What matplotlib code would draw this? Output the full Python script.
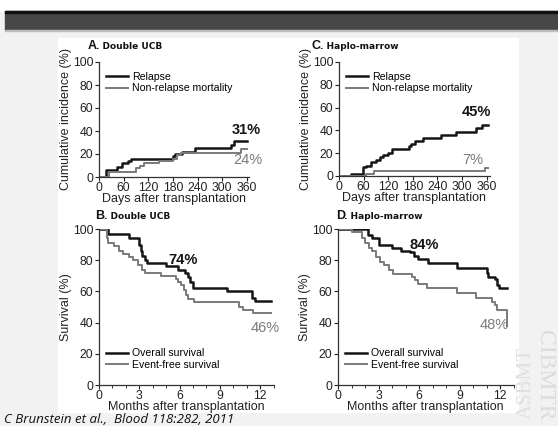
import numpy as np
import matplotlib.pyplot as plt
from matplotlib.patches import Rectangle

# Данные
# A. Double UCB - кумулятивная частота, дни
a_rel_days = [0, 18, 45, 55, 70, 79, 181, 185, 201, 234, 322, 328, 360]
a_rel = [0, 6, 9, 12, 14, 16, 18, 20, 22, 25, 28, 31, 31]
a_nrm_days = [0, 25, 90, 100, 110, 145, 180, 190, 200, 345, 360]
a_nrm = [0, 4, 8, 10, 12, 14, 16, 19, 21, 24, 24]

# C. Haplo-marrow
c_rel_days = [0, 30, 58, 67, 79, 91, 100, 107, 120, 128, 170, 176, 184, 205, 249, 286, 334, 349, 364]
c_rel = [0, 2, 8, 9, 12, 14, 17, 18, 20, 24, 26, 28, 31, 33, 36, 39, 42, 45, 45]
c_nrm_days = [0, 65, 85, 355, 364]
c_nrm = [0, 2, 4, 7, 7]

# B. Double UCB - выживаемость, месяцы
b_os_mo = [0, 0.7, 2.2, 3.0, 3.1, 3.2, 3.4, 3.6, 5.0, 5.9, 6.4, 6.6, 6.8, 7.0, 9.5, 11.4, 11.6, 12.8]
b_os = [100, 97, 94, 90, 86, 83, 80, 78, 76, 74, 72, 69, 66, 62, 60, 56, 54, 54]
b_efs_mo = [0, 0.6, 0.7, 1.1, 1.5, 1.8, 2.2, 2.5, 2.9, 3.2, 3.4, 4.6, 5.7, 5.9, 6.1, 6.3, 6.5, 6.6, 7.1, 10.4, 10.7, 11.5, 12.8]
b_efs = [100, 94, 91, 89, 86, 84, 82, 80, 77, 74, 72, 70, 68, 66, 64, 61, 58, 55, 53, 50, 48, 46, 46]

# D. Haplo-marrow
d_os_mo = [0, 2.2, 2.5, 3.0, 4.0, 4.7, 5.3, 5.6, 5.9, 6.7, 8.8, 11.0, 11.1, 11.6, 11.8, 11.9, 12.5]
d_os = [100, 96, 94, 90, 88, 86, 85, 83, 81, 78, 75, 72, 69, 68, 64, 62, 62]
d_efs_mo = [0, 1.0, 1.8, 2.0, 2.3, 2.5, 2.8, 3.1, 3.4, 3.8, 4.1, 5.5, 5.7, 5.9, 6.6, 8.8, 10.2, 11.4, 11.6, 11.8, 12.5, 12.5]
d_efs = [100, 98, 94, 91, 88, 86, 82, 79, 77, 74, 71, 69, 67, 65, 62, 59, 56, 53, 51, 48, 48, 38]

W, H = 558, 426
BLACK = '#151515'
GRAY = '#7a7a7a'
plt.rcParams['font.family'] = ['Liberation Sans', 'DejaVu Sans']

fig = plt.figure(figsize=(W / 100, H / 100), dpi=100)
fig.patch.set_facecolor('#f2f2f2')


def px_rect(x0, y0, x1, y1):
    return [x0 / W, 1 - y1 / H, (x1 - x0) / W, (y1 - y0) / H]


def fx(x):
    return x / W


def fy(y):
    return 1 - y / H


# фон слайда (под осями)
def bg_rect(x0, y0, x1, y1, color, z):
    fig.patches.append(Rectangle((fx(x0), fy(y1)), (x1 - x0) / W, (y1 - y0) / H,
                                 transform=fig.transFigure, color=color, zorder=z))


bg_rect(0, 0, W, 11, 'white', -5)
bg_rect(5, 11, W, 30, '#474747', -4)
bg_rect(5, 11, W, 13, '#111111', -3)
bg_rect(5, 29.5, W, 31, '#bdbdbd', -3)
bg_rect(58, 38, 518, 412, 'white', -4)

# водяной знак
fig.text(fx(545), fy(375), 'CIBMTR', rotation=270, ha='center', va='center', fontsize=17,
         family='Liberation Serif', color='#dcdcdc', zorder=-2)
fig.text(fx(526), fy(383), 'ASBMT', rotation=90, ha='center', va='center', fontsize=15,
         family='Liberation Serif', color='#e0e0e0', zorder=-2)


def style_axes(ax, xmax, xticks, ylabel, xlabel, minor=None):
    ax.set_xlim(0, xmax)
    ax.set_ylim(0, 100)
    ax.set_facecolor('none')
    for s in ['top', 'right']:
        ax.spines[s].set_visible(False)
    for s in ['left', 'bottom']:
        ax.spines[s].set_color('#333333')
        ax.spines[s].set_linewidth(0.9)
    ax.set_xticks(xticks)
    ax.set_yticks([0, 20, 40, 60, 80, 100])
    if minor is not None:
        ax.set_xticks(minor, minor=True)
    ax.tick_params(direction='out', length=3, width=0.8, labelsize=8.8, colors='#222222', pad=1)
    ax.tick_params(axis='x', pad=0.5)
    ax.tick_params(which='minor', direction='out', length=2, width=0.7, colors='#333333')
    ax.set_ylabel(ylabel, fontsize=9, color='#222222', labelpad=1)
    ax.set_xlabel(xlabel, fontsize=9, color='#222222', labelpad=-0.5)


# A
axA = fig.add_axes(px_rect(99, 62, 249, 177))
axA.step(a_rel_days, a_rel, where='post', color=BLACK, lw=1.8, label='Relapse')
axA.step(a_nrm_days, a_nrm, where='post', color=GRAY, lw=1.4, label='Non-relapse mortality')
style_axes(axA, 365, range(0, 361, 60), 'Cumulative incidence (%)', 'Days after transplantation')
axA.legend(loc='upper left', bbox_to_anchor=(0.0, 0.98), frameon=False, fontsize=7.6,
           handlelength=2.0, handletextpad=0.4, labelspacing=0.15, borderaxespad=0.3)
axA.text(358, 41, '31%', fontsize=10.5, fontweight='bold', color=BLACK, ha='center', va='center')
axA.text(362, 15, '24%', fontsize=10.5, color=GRAY, ha='center', va='center')

# C
axC = fig.add_axes(px_rect(339, 62, 490, 176))
axC.step(c_rel_days, c_rel, where='post', color=BLACK, lw=1.8, label='Relapse')
axC.step(c_nrm_days, c_nrm, where='post', color=GRAY, lw=1.4, label='Non-relapse mortality')
style_axes(axC, 368, range(0, 361, 60), 'Cumulative incidence (%)', 'Days after transplantation')
axC.legend(loc='upper left', bbox_to_anchor=(0.0, 0.98), frameon=False, fontsize=7.6,
           handlelength=2.0, handletextpad=0.4, labelspacing=0.15, borderaxespad=0.3)
axC.text(336, 56, '45%', fontsize=10.5, fontweight='bold', color=BLACK, ha='center', va='center')
axC.text(326, 14, '7%', fontsize=10.5, color=GRAY, ha='center', va='center')

# B
axB = fig.add_axes(px_rect(99, 229, 273.5, 385))
axB.step(b_os_mo, b_os, where='post', color=BLACK, lw=1.8, label='Overall survival')
axB.step(b_efs_mo, b_efs, where='post', color=GRAY, lw=1.4, label='Event-free survival')
style_axes(axB, 13, [0, 3, 6, 9, 12], 'Survival (%)', 'Months after transplantation',
           minor=[1, 2, 4, 5, 7, 8, 10, 11, 13])
axB.legend(loc='lower left', bbox_to_anchor=(0.0, 0.05), frameon=False, fontsize=7.6,
           handlelength=2.0, handletextpad=0.4, labelspacing=0.15, borderaxespad=0.3)
axB.text(6.26, 80, '74%', fontsize=10.5, fontweight='bold', color=BLACK, ha='center', va='center')
axB.text(12.4, 36.5, '46%', fontsize=10.5, color=GRAY, ha='center', va='center')

# D
axD = fig.add_axes(px_rect(338, 229, 513.5, 385))
axD.step(d_os_mo, d_os, where='post', color=BLACK, lw=1.8, label='Overall survival')
axD.step(d_efs_mo, d_efs, where='post', color=GRAY, lw=1.4, label='Event-free survival')
style_axes(axD, 13, [0, 3, 6, 9, 12], 'Survival (%)', 'Months after transplantation',
           minor=[1, 2, 4, 5, 7, 8, 10, 11, 13])
axD.legend(loc='lower left', bbox_to_anchor=(0.0, 0.05), frameon=False, fontsize=7.6,
           handlelength=2.0, handletextpad=0.4, labelspacing=0.15, borderaxespad=0.3)
axD.text(6.4, 90, '84%', fontsize=10.5, fontweight='bold', color=BLACK, ha='center', va='center')
axD.text(11.6, 38.5, '48%', fontsize=10.5, color=GRAY, ha='center', va='center')

# заголовки панелей
titles = [(88, 46, 'A', '. Double UCB'), (312, 46, 'C', '. Haplo-marrow'),
          (95, 216, 'B', '. Double UCB'), (336, 216, 'D', '. Haplo-marrow')]
for x, y, letter, rest in titles:
    fig.text(fx(x), fy(y), letter, fontsize=9, fontweight='bold', color='#111111',
             va='center', ha='left')
    fig.text(fx(x + 8.5), fy(y + 0.5), rest, fontsize=6.5, fontweight='bold', color='#111111',
             va='center', ha='left', family='DejaVu Sans')

# источник
fig.text(fx(4), fy(426), 'C Brunstein et al.,  Blood 118:282, 2011', fontsize=9.5,
         style='italic', family='Open Sans', color='#111111', va='bottom', ha='left')

plt.savefig('out.png', dpi=100, facecolor=fig.get_facecolor())
